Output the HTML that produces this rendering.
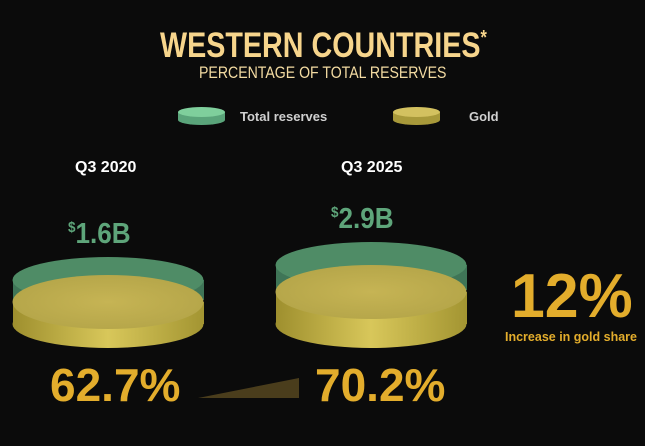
<!DOCTYPE html>
<html><head><style>
html,body{margin:0;padding:0;background:#0b0b0b;}
body{width:645px;height:446px;position:relative;overflow:hidden;font-family:"Liberation Sans",sans-serif;}
.t{position:absolute;white-space:nowrap;font-weight:bold;line-height:1;transform-origin:0 0;}
</style></head><body>
<svg width="645" height="446" style="position:absolute;left:0;top:0">
<defs>
<linearGradient id="gs" x1="0" x2="1"><stop offset="0" stop-color="#9e8f2e"/><stop offset="0.5" stop-color="#d8c75a"/><stop offset="1" stop-color="#a39532"/></linearGradient>
<radialGradient id="gt" cx="0.5" cy="0.5" r="0.6"><stop offset="0" stop-color="#c6b454"/><stop offset="1" stop-color="#b3a448"/></radialGradient>
</defs>
<rect x="13" y="280" width="191" height="20" fill="#3f7557"/>
<ellipse cx="108" cy="280" rx="95.5" ry="23" fill="#4f8c66"/>
<rect x="13" y="302" width="191" height="22" fill="url(#gs)"/>
<ellipse cx="108" cy="324" rx="95.5" ry="24" fill="url(#gs)"/>
<ellipse cx="108" cy="302" rx="95.5" ry="27" fill="url(#gt)"/>
<rect x="276" y="265" width="191" height="25" fill="#3f7557"/>
<ellipse cx="371" cy="265" rx="95.5" ry="23" fill="#4f8c66"/>
<rect x="276" y="292" width="191" height="32" fill="url(#gs)"/>
<ellipse cx="371" cy="324" rx="95.5" ry="24" fill="url(#gs)"/>
<ellipse cx="371" cy="292" rx="95.5" ry="27" fill="url(#gt)"/>
<rect x="178" y="112" width="47" height="8" fill="#5aa47a"/>
<ellipse cx="201.5" cy="120" rx="23.5" ry="5" fill="#5aa47a"/>
<ellipse cx="201.5" cy="112" rx="23.5" ry="5" fill="#7fcf9c"/>
<rect x="393" y="112" width="47" height="8" fill="#a8993a"/>
<ellipse cx="416.5" cy="120" rx="23.5" ry="5" fill="#a8993a"/>
<ellipse cx="416.5" cy="112" rx="23.5" ry="5" fill="#d3c160"/>
<polygon points="198,398 299,378 299,398" fill="#4a3d1c"/>
</svg>
<div class="t" style="left:160px;top:28px;font-size:35px;color:#f7d58c;transform:scaleX(0.82)">WESTERN COUNTRIES<span style="font-size:20px;vertical-align:top">*</span></div>
<div class="t" style="left:199px;top:65px;font-size:16.5px;font-weight:normal;color:#f3dba2;transform:scaleX(0.855)">PERCENTAGE OF TOTAL RESERVES</div>
<div class="t" style="left:240px;top:110px;font-size:13px;color:#d0d0d0">Total reserves</div>
<div class="t" style="left:469px;top:110px;font-size:13px;color:#d0d0d0">Gold</div>
<div class="t" style="left:75px;top:160px;font-size:16px;color:#fff">Q3 2020</div>
<div class="t" style="left:341px;top:160px;font-size:16px;color:#fff">Q3 2025</div>
<div class="t" style="left:68px;top:220px;font-size:29px;color:#5ea57a;transform:scaleX(0.9)"><span style="font-size:15px;vertical-align:top">$</span>1.6B</div>
<div class="t" style="left:331px;top:205px;font-size:29px;color:#5ea57a;transform:scaleX(0.9)"><span style="font-size:15px;vertical-align:top">$</span>2.9B</div>
<div class="t" style="left:50px;top:362px;font-size:46px;color:#e3ad2c">62.7%</div>
<div class="t" style="left:315px;top:362px;font-size:46px;color:#e3ad2c">70.2%</div>
<div class="t" style="left:511px;top:266px;font-size:62px;color:#e3ad2c;transform:scaleX(0.98)">12%</div>
<div class="t" style="left:505px;top:331px;font-size:12.5px;color:#e3ad2c">Increase in gold share</div>
</body></html>
